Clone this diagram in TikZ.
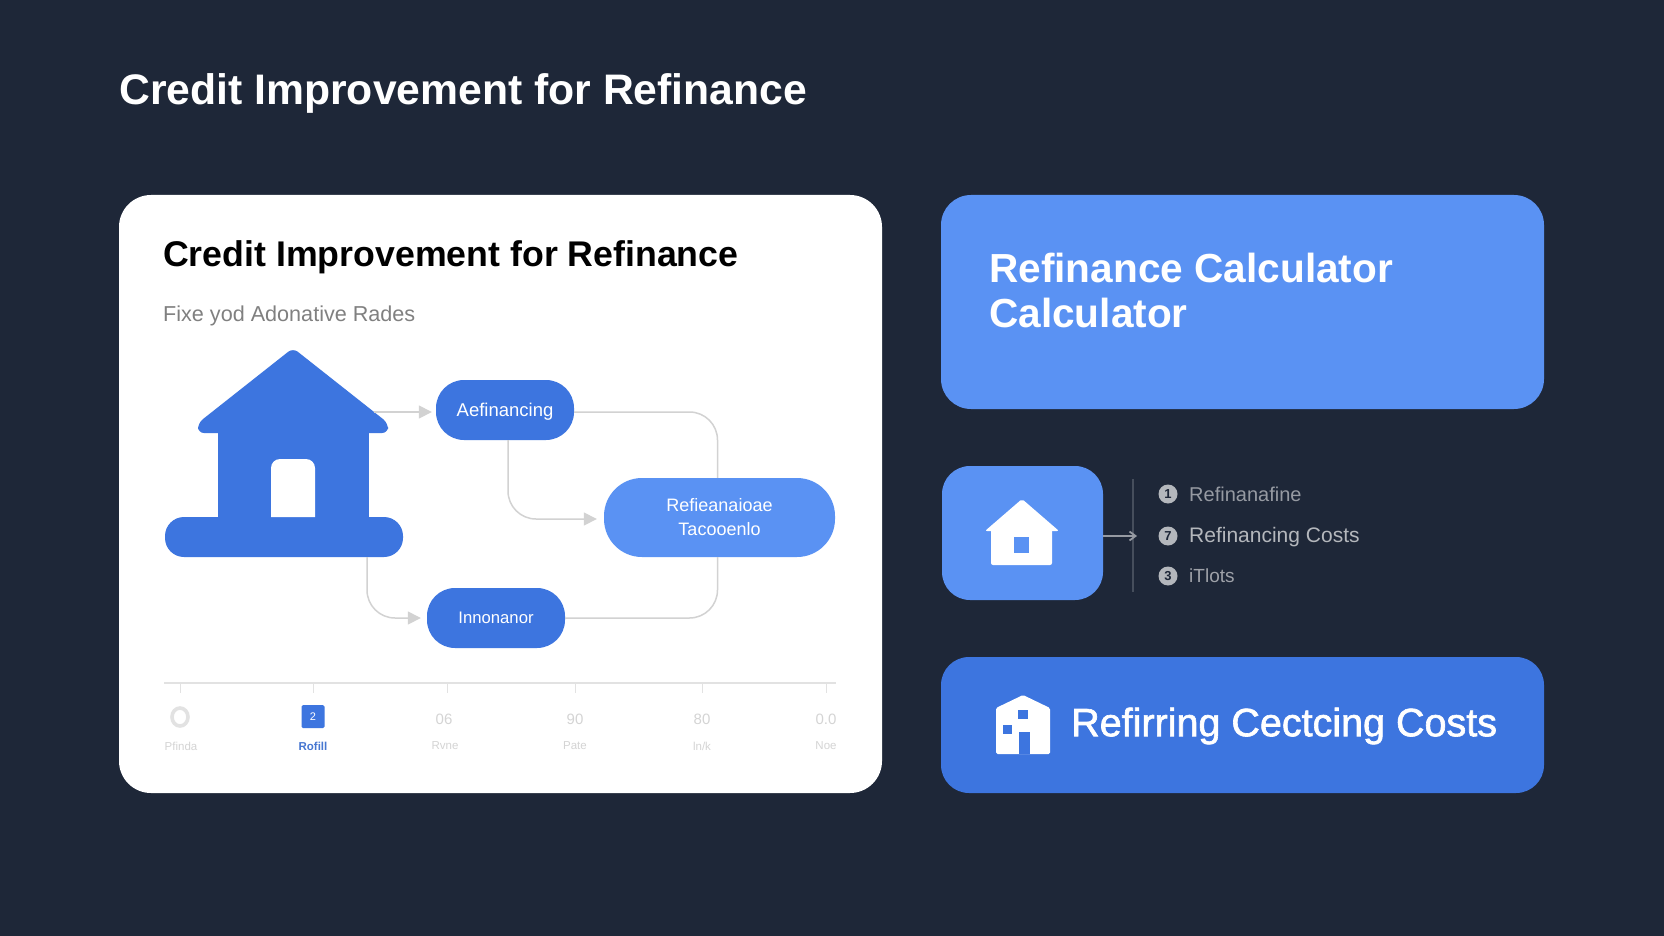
\documentclass[tikz,border=0pt]{standalone}
\usepackage{fontspec}
\setmainfont{Liberation Sans}
\newfontfamily\medfont[FakeBold=1.6]{Liberation Sans}
\usetikzlibrary{arrows.meta,shapes.geometric}
\definecolor{bgc}{HTML}{1E2738}
\definecolor{lightblue}{HTML}{5A92F3}
\definecolor{darkblue}{HTML}{3D75DF}
\definecolor{connc}{HTML}{D2D2D2}
\definecolor{axisc}{HTML}{E2E2E2}
\definecolor{faint}{HTML}{D4D4D4}
\definecolor{graytxt}{HTML}{B4B7BC}
\newcommand{\fsz}[1]{\fontsize{#1}{#1}\selectfont}
\tikzset{
  pill/.style={fill=darkblue,text=white,inner sep=0pt,rounded corners=28pt,minimum width=138pt,minimum height=60pt,align=center,font=\fsz{19}},
  lbl/.style={inner sep=0pt,anchor=west},
  conn/.style={draw=connc,line width=1.5pt,rounded corners=28pt},
  arrowtip/.style={-{Triangle[length=13pt,width=13pt,fill=connc]}},
  tickm/.style={draw=axisc,line width=1pt},
  numtxt/.style={text=faint,font=\fsz{15},inner sep=0pt},
  captxt/.style={text=faint,font=\fsz{11.5},inner sep=0pt},
  bull/.style={circle,fill=graytxt,minimum size=19pt,inner sep=0pt,text=bgc,font=\bfseries\fsz{13}},
  rowtxt/.style={lbl,text=graytxt,font=\fsz{21}},
}
\begin{document}
\begin{tikzpicture}[x=1pt,y=-1pt]
\useasboundingbox (0,0) rectangle (1664,936);
\fill[bgc] (0,0) rectangle (1664,936);
% title
\node[lbl,text=white,font=\bfseries\fsz{42.7}] (title) at (119,93) {Credit Improvement for Refinance};
% white card
\node[fill=white,rounded corners=32pt,minimum width=763pt,minimum height=598pt,inner sep=0pt] (card) at (500.5,494) {};
\node[lbl,text=black,font=\bfseries\fsz{35.7}] (inner) at (163,257) {Credit Improvement for Refinance};
\node[lbl,text=black!50,font=\fsz{21.6}] (sub) at (163,316) {Fixe yod Adonative Rades};
% house
\node[inner sep=0pt,minimum width=238pt,minimum height=208pt] (house) at (284,453) {};
\fill[darkblue,rounded corners=6pt] (293,348) -- (388,423) -- (388,433) -- (198,433) -- (198,423) -- cycle;
\fill[darkblue] (218,425) rectangle (369,525);
\fill[darkblue,rounded corners=19pt] (165,517) rectangle (403,557);
\fill[white] (271,517) {[rounded corners=9pt] -- (271,459) -- (315,459)} -- (315,517) -- cycle;
\coordinate (roofr) at (374,412);
\coordinate (hb) at (367,557);
% pills
\node[pill,font=\fsz{18.5}] (a) at (505,410) {\raisebox{-6.5pt}[0pt][0pt]{Aefinancing}};
\node[pill,fill=lightblue,font=\fsz{18},minimum width=231pt,minimum height=79pt,rounded corners=38pt] (r) at (719.5,517.5) {Refieanaioae\\[6pt]Tacooenlo};
\node[pill,font=\fsz{16.7}] (i) at (496,618) {Innonanor};
% connectors
\draw[conn,arrowtip,shorten >=4pt] (roofr) -- (a.west |- roofr);
\draw[conn] ([yshift=-2pt]a.east) -| ([xshift=-2pt]r.north);
\draw[conn,arrowtip,shorten >=7pt] ([xshift=3pt]a.south) |- ([yshift=-1.5pt]r.west);
\draw[conn,arrowtip,shorten >=6pt] (hb) |- (i.west);
\draw[conn] (i.east) -| ([xshift=-2pt]r.south);
% axis
\coordinate (axl) at (164,683);
\coordinate (axr) at (836,683);
\draw[axisc,line width=1.6pt] (axl) -- (axr);
\foreach \x in {180,313,447,575,702.5,826} \draw[tickm] (\x,683) -- (\x,693);
\node[draw=axisc,line width=3.6pt,ellipse,minimum width=16pt,minimum height=18pt,inner sep=0pt] (p0) at (180,717) {};
\node[fill=darkblue,rounded corners=1.5pt,text=white,font=\fsz{11},minimum width=23pt,minimum height=23pt,inner sep=0pt] (p1) at (313,716.5) {2};
\node[numtxt] (p2) at (444,719) {06};
\node[numtxt] (p3) at (575,719) {90};
\node[numtxt] (p4) at (702,719) {80};
\node[numtxt] (p5) at (826,719) {0.0};
\node[captxt] (c0) at (181,746) {Pfinda};
\node[captxt,text=darkblue!85!gray,font=\bfseries\fsz{11.5}] (c1) at (313,746) {Rofill};
\node[captxt] (c2) at (445,746) {Rvne};
\node[captxt] (c3) at (575,746) {Pate};
\node[captxt] (c4) at (702,746) {ln/k};
\node[captxt] (c5) at (826,746) {Noe};
% right top card
\node[fill=lightblue,rounded corners=30pt,minimum width=603pt,minimum height=214pt,inner sep=0pt] (calc) at (1242.5,302) {};
\node[lbl,text=white,font=\bfseries\fsz{40.6}] (calc1) at (989,268) {Refinance Calculator};
\node[lbl,text=white,font=\bfseries\fsz{40.6}] (calc2) at (989,313) {Calculator};
% icon card
\node[fill=lightblue,rounded corners=28pt,minimum width=161pt,minimum height=134pt,inner sep=0pt] (icon) at (1022.5,533) {};
\fill[white,rounded corners=2pt] (1022,499) -- (1059,531) -- (985,531) -- cycle;
\fill[white,rounded corners=2pt] (991,525) rectangle (1052,565);
\fill[lightblue] (1014,537) rectangle (1029,553);
% arrow + vertical
\coordinate (vt) at (1133,479);
\coordinate (vb) at (1133,592);
\coordinate (tipa) at (1137,536);
\draw[white!18!bgc,line width=1.2pt] (vt) -- (vb);
\draw[graytxt!80!bgc,line width=1.8pt,-{Straight Barb[length=6pt,width=9pt]}] (icon.east |- tipa) -- (tipa);
% list
\node[bull] (b1) at (1168,494) {1};
\node[bull] (b2) at (1168,536) {7};
\node[bull] (b3) at (1168,576) {3};
\node[rowtxt,text=graytxt!80!bgc,font=\fsz{20}] (t1) at (1189,494) {Refinanafine};
\node[rowtxt] (t2) at (1189,537) {Refinancing Costs};
\node[rowtxt,text=graytxt!85!bgc,font=\fsz{19}] (t3) at (1189,576) {iTlots};
% bottom card
\node[fill=darkblue,rounded corners=28pt,minimum width=603pt,minimum height=136pt,inner sep=0pt] (cost) at (1242.5,725) {};
\fill[white,rounded corners=1.5pt] (996,754) -- (996,708) -- (1023,695) -- (1050,708) -- (1050,754) -- cycle;
\fill[darkblue] (1018,710) rectangle (1028,719);
\fill[darkblue] (1003,725) rectangle (1012,734);
\fill[darkblue] (1019,732) rectangle (1030,754);
\node[lbl,text=white,font=\medfont\fsz{39.5}] (cost1) at (1071,726) {Refirring Cectcing Costs};
\end{tikzpicture}
\end{document}
